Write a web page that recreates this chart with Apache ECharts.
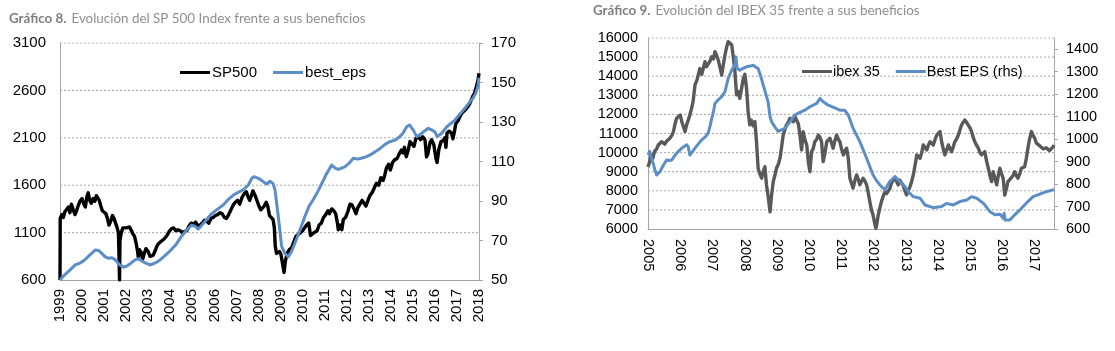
<!DOCTYPE html>
<html>
<head>
<meta charset="utf-8">
<script src="https://cdn.jsdelivr.net/npm/echarts@6/dist/echarts.min.js"></script>
<style>
    html, body {margin: 0; padding: 0; background: #fff;}
    #main {width: 1115px; height: 351px;}
</style>
</head>
<body>
<div id="main"></div>
<script>
// Gráfico 8: SP500 (eje izq.) y best_eps (eje dcho.), [año, valor]
const sp500 = [
    [1999.00, 600], [1999.01, 1250], [1999.08, 1290], [1999.15, 1260], [1999.22, 1320], [1999.30, 1340],
    [1999.38, 1370], [1999.45, 1310], [1999.52, 1400], [1999.60, 1340], [1999.68, 1290], [1999.75, 1330],
    [1999.82, 1380], [1999.90, 1430], [2000.00, 1460], [2000.08, 1400], [2000.15, 1370], [2000.22, 1480],
    [2000.28, 1520], [2000.35, 1440], [2000.42, 1410], [2000.50, 1460], [2000.58, 1430], [2000.65, 1490],
    [2000.72, 1510], [2000.78, 1440], [2000.85, 1380], [2000.92, 1330], [2001.00, 1350], [2001.08, 1300],
    [2001.15, 1250], [2001.22, 1180], [2001.30, 1220], [2001.38, 1280], [2001.45, 1250], [2001.52, 1200],
    [2001.58, 1160], [2001.65, 1100], [2001.69, 1080], [2001.70, 600], [2001.72, 1020], [2001.78, 1100],
    [2001.85, 1150], [2001.92, 1170], [2002.00, 1150], [2002.08, 1130], [2002.15, 1160], [2002.22, 1130],
    [2002.30, 1090], [2002.38, 1060], [2002.45, 990], [2002.52, 900], [2002.55, 840], [2002.60, 920],
    [2002.68, 890], [2002.75, 820], [2002.82, 880], [2002.90, 930], [2003.00, 900], [2003.08, 850],
    [2003.15, 830], [2003.22, 860], [2003.30, 900], [2003.38, 950], [2003.45, 980], [2003.55, 1000],
    [2003.65, 1020], [2003.75, 1040], [2003.85, 1070], [2003.95, 1110], [2004.05, 1140], [2004.15, 1150],
    [2004.25, 1120], [2004.35, 1130], [2004.45, 1120], [2004.55, 1100], [2004.65, 1110], [2004.75, 1120],
    [2004.85, 1170], [2004.95, 1200], [2005.05, 1190], [2005.15, 1210], [2005.25, 1170], [2005.35, 1180],
    [2005.45, 1200], [2005.55, 1230], [2005.65, 1220], [2005.75, 1200], [2005.85, 1250], [2005.95, 1260],
    [2006.05, 1280], [2006.15, 1290], [2006.25, 1310], [2006.35, 1300], [2006.45, 1260], [2006.55, 1250],
    [2006.65, 1290], [2006.75, 1340], [2006.85, 1390], [2006.95, 1420], [2007.05, 1440], [2007.15, 1400],
    [2007.25, 1470], [2007.35, 1510], [2007.45, 1530], [2007.52, 1480], [2007.60, 1440], [2007.68, 1490],
    [2007.75, 1540], [2007.80, 1560], [2007.87, 1480], [2007.95, 1460], [2008.02, 1380], [2008.10, 1340],
    [2008.18, 1320], [2008.26, 1380], [2008.35, 1420], [2008.42, 1380], [2008.50, 1280], [2008.58, 1260],
    [2008.66, 1240], [2008.72, 1150], [2008.76, 960], [2008.82, 880], [2008.88, 860], [2008.95, 900],
    [2009.02, 870], [2009.10, 760], [2009.16, 680], [2009.22, 800], [2009.30, 880], [2009.40, 920],
    [2009.50, 940], [2009.60, 1000], [2009.70, 1060], [2009.80, 1080], [2009.90, 1100], [2010.00, 1120],
    [2010.08, 1100], [2010.18, 1180], [2010.28, 1200], [2010.36, 1070], [2010.45, 1060], [2010.52, 1100],
    [2010.58, 1080], [2010.66, 1120], [2010.75, 1180], [2010.85, 1200], [2010.95, 1260], [2011.05, 1290],
    [2011.15, 1330], [2011.22, 1300], [2011.32, 1350], [2011.42, 1330], [2011.50, 1300], [2011.58, 1200],
    [2011.62, 1130], [2011.70, 1180], [2011.78, 1130], [2011.85, 1240], [2011.95, 1260], [2012.05, 1320],
    [2012.15, 1400], [2012.25, 1390], [2012.35, 1340], [2012.42, 1300], [2012.50, 1360], [2012.60, 1400],
    [2012.70, 1440], [2012.78, 1430], [2012.87, 1380], [2012.95, 1430], [2013.05, 1490], [2013.15, 1520],
    [2013.25, 1570], [2013.35, 1620], [2013.45, 1600], [2013.55, 1680], [2013.65, 1650], [2013.72, 1700],
    [2013.80, 1780], [2013.90, 1820], [2013.98, 1760], [2014.08, 1840], [2014.18, 1870], [2014.28, 1880],
    [2014.38, 1930], [2014.48, 1970], [2014.55, 1940], [2014.62, 2000], [2014.70, 1900], [2014.78, 1960],
    [2014.87, 2060], [2014.95, 2040], [2015.05, 2010], [2015.15, 2100], [2015.25, 2110], [2015.35, 2080],
    [2015.45, 2110], [2015.55, 2080], [2015.62, 1900], [2015.68, 1930], [2015.78, 2050], [2015.85, 2080],
    [2015.95, 2030], [2016.05, 1880], [2016.10, 1840], [2016.18, 1980], [2016.28, 2060], [2016.38, 2070],
    [2016.45, 2100], [2016.50, 2000], [2016.55, 2150], [2016.65, 2170], [2016.75, 2150], [2016.82, 2090],
    [2016.88, 2160], [2016.95, 2250], [2017.05, 2280], [2017.15, 2330], [2017.22, 2360], [2017.30, 2350],
    [2017.40, 2400], [2017.50, 2430], [2017.58, 2460], [2017.65, 2480], [2017.72, 2540], [2017.80, 2570],
    [2017.88, 2640], [2017.95, 2700], [2018.00, 2780]
];
const spEps = [
    [1999.00, 50], [1999.20, 52.5], [1999.45, 55], [1999.68, 57.6], [1999.90, 58.5], [2000.10, 60],
    [2000.36, 62.7], [2000.60, 65.2], [2000.75, 65], [2000.85, 64], [2001.04, 61.8], [2001.20, 61],
    [2001.35, 61.3], [2001.50, 60.3], [2001.72, 57.5], [2001.90, 56.5], [2002.05, 57.2], [2002.20, 58.4],
    [2002.40, 60.2], [2002.55, 60.8], [2002.70, 59.7], [2002.90, 58.5], [2003.08, 57.6], [2003.30, 58.5],
    [2003.55, 60.3], [2003.80, 62.7], [2004.00, 64.8], [2004.25, 67.8], [2004.50, 72], [2004.75, 75.3],
    [2004.97, 77.8], [2005.15, 77], [2005.27, 75.8], [2005.45, 78], [2005.65, 80.6], [2005.85, 83.3],
    [2006.10, 85.5], [2006.40, 88], [2006.65, 91], [2006.86, 93], [2007.10, 94.5], [2007.31, 95.6],
    [2007.54, 98.1], [2007.70, 101.5], [2007.80, 102.3], [2008.00, 101.5], [2008.22, 99.8], [2008.37, 98.6],
    [2008.52, 100], [2008.66, 98.8], [2008.75, 95.6], [2008.90, 82], [2009.05, 67], [2009.20, 63.5],
    [2009.35, 61.8], [2009.50, 64.4], [2009.70, 70], [2009.88, 75.3], [2010.10, 82], [2010.30, 87.5],
    [2010.50, 91], [2010.70, 95], [2010.90, 99.5], [2011.05, 103], [2011.32, 108.2], [2011.50, 106.5],
    [2011.62, 106], [2011.80, 106.8], [2011.93, 107.4], [2012.10, 109], [2012.30, 111.6], [2012.50, 111.2],
    [2012.70, 111.8], [2012.90, 112.5], [2013.06, 113.3], [2013.30, 115], [2013.50, 116.5], [2013.70, 118.3],
    [2013.90, 119.8], [2014.20, 120.9], [2014.40, 122.5], [2014.55, 124.3], [2014.72, 127.6], [2014.85, 128.5],
    [2015.02, 125.9], [2015.18, 122.6], [2015.35, 123.8], [2015.55, 125.6], [2015.70, 126.8], [2015.85, 126],
    [2016.00, 125], [2016.10, 122.6], [2016.31, 124.3], [2016.54, 127.6], [2016.75, 129.5], [2016.91, 131],
    [2017.10, 133.6], [2017.29, 136], [2017.45, 138.2], [2017.60, 140.3], [2017.75, 142.5], [2017.85, 144.5],
    [2017.95, 148], [2018.00, 152.5]
];
const spYears = [1999, 2018];
const spLeftTicks = [600, 1100, 1600, 2100, 2600, 3100];
const spRightTicks = [50, 70, 90, 110, 130, 150, 170];

// Gráfico 9: ibex 35 (eje izq.) y Best EPS (eje dcho.), [año, valor]
const ibex = [
    [2005.00, 9250], [2005.05, 9500], [2005.10, 9880], [2005.15, 9700], [2005.20, 10050], [2005.27, 10200],
    [2005.32, 10400], [2005.38, 10300], [2005.42, 10570], [2005.48, 10480], [2005.52, 10440], [2005.58, 10600],
    [2005.63, 10550], [2005.68, 10750], [2005.74, 10900], [2005.79, 11100], [2005.84, 11500], [2005.89, 11800],
    [2005.95, 11900], [2006.00, 11970], [2006.05, 11620], [2006.10, 11350], [2006.15, 11100], [2006.20, 11450],
    [2006.25, 11700], [2006.30, 11970], [2006.35, 12300], [2006.40, 12670], [2006.46, 13540], [2006.52, 13800],
    [2006.56, 14060], [2006.61, 14400], [2006.67, 14100], [2006.72, 14150], [2006.77, 14760], [2006.82, 14500],
    [2006.87, 14400], [2006.93, 14800], [2006.98, 15020], [2007.03, 14900], [2007.08, 15280], [2007.13, 15100],
    [2007.18, 14850], [2007.23, 14500], [2007.29, 14060], [2007.34, 14600], [2007.39, 15110], [2007.44, 15500],
    [2007.49, 15810], [2007.55, 15850], [2007.60, 15640], [2007.65, 15000], [2007.70, 14240], [2007.75, 13020],
    [2007.80, 13200], [2007.85, 12840], [2007.90, 13300], [2007.96, 13890], [2008.01, 14100], [2008.06, 13370],
    [2008.11, 12140], [2008.16, 11450], [2008.21, 11700], [2008.27, 11400], [2008.32, 11620], [2008.37, 10570],
    [2008.42, 9180], [2008.47, 8900], [2008.53, 8660], [2008.58, 9000], [2008.63, 9260], [2008.68, 8310],
    [2008.74, 7600], [2008.79, 6900], [2008.84, 7800], [2008.89, 8480], [2008.94, 8800], [2008.99, 9180],
    [2009.05, 9400], [2009.10, 9700], [2009.15, 10300], [2009.20, 10920], [2009.25, 11200], [2009.30, 11450],
    [2009.36, 11600], [2009.41, 11800], [2009.46, 11700], [2009.51, 11620], [2009.56, 11900], [2009.62, 11880],
    [2009.67, 11500], [2009.72, 10920], [2009.77, 10140], [2009.82, 11100], [2009.87, 10700], [2009.93, 10400],
    [2009.98, 9500], [2010.03, 9000], [2010.08, 10050], [2010.13, 10200], [2010.18, 10570], [2010.24, 10700],
    [2010.29, 10920], [2010.34, 10800], [2010.39, 10570], [2010.44, 9530], [2010.50, 10000], [2010.55, 10570],
    [2010.60, 10500], [2010.65, 10750], [2010.70, 10500], [2010.75, 10230], [2010.80, 10600], [2010.86, 10920],
    [2010.91, 10700], [2010.96, 10570], [2011.01, 10200], [2011.07, 9880], [2011.12, 10100], [2011.17, 10230],
    [2011.22, 9700], [2011.27, 8660], [2011.32, 8400], [2011.37, 8140], [2011.42, 8500], [2011.48, 8830],
    [2011.53, 8600], [2011.58, 8310], [2011.63, 8500], [2011.68, 8660], [2011.74, 8500], [2011.79, 8310],
    [2011.84, 7900], [2011.89, 7430], [2011.94, 7000], [2011.99, 6730], [2012.04, 6300], [2012.08, 6040],
    [2012.12, 6400], [2012.15, 6730], [2012.20, 7100], [2012.25, 7430], [2012.30, 7700], [2012.36, 7960],
    [2012.41, 7850], [2012.46, 7780], [2012.51, 8100], [2012.56, 8400], [2012.61, 8550], [2012.67, 8660],
    [2012.72, 8500], [2012.77, 8310], [2012.82, 8560], [2012.87, 8480], [2012.92, 8300], [2012.98, 8000],
    [2013.03, 7780], [2013.08, 8000], [2013.14, 8220], [2013.19, 8500], [2013.24, 8830], [2013.29, 9300],
    [2013.35, 9880], [2013.40, 9800], [2013.45, 9700], [2013.50, 10000], [2013.55, 10400], [2013.60, 10300],
    [2013.66, 10140], [2013.71, 10400], [2013.76, 10570], [2013.81, 10500], [2013.86, 10400], [2013.92, 10700],
    [2013.97, 10920], [2014.02, 11000], [2014.07, 11100], [2014.12, 10570], [2014.17, 10200], [2014.22, 9880],
    [2014.27, 10100], [2014.33, 10400], [2014.38, 10200], [2014.43, 10050], [2014.48, 10300], [2014.53, 10570],
    [2014.58, 10700], [2014.64, 10920], [2014.69, 11200], [2014.74, 11450], [2014.79, 11550], [2014.84, 11710],
    [2014.89, 11600], [2014.95, 11530], [2015.00, 11300], [2015.05, 11100], [2015.10, 10800], [2015.15, 10570],
    [2015.20, 10400], [2015.26, 10230], [2015.31, 10000], [2015.36, 9880], [2015.41, 9900], [2015.46, 10050],
    [2015.51, 9600], [2015.57, 9180], [2015.62, 8800], [2015.67, 8480], [2015.72, 9000], [2015.77, 8700],
    [2015.83, 8310], [2015.88, 8800], [2015.93, 9180], [2015.98, 8900], [2016.03, 8660], [2016.08, 7780],
    [2016.13, 8100], [2016.18, 8480], [2016.24, 8600], [2016.29, 8660], [2016.34, 8800], [2016.39, 9000],
    [2016.44, 8800], [2016.49, 8660], [2016.55, 8900], [2016.60, 9180], [2016.65, 9200], [2016.70, 9260],
    [2016.75, 9700], [2016.80, 10230], [2016.85, 10700], [2016.91, 11100], [2016.96, 10900], [2017.01, 10750],
    [2017.06, 10500], [2017.11, 10400], [2017.17, 10350], [2017.22, 10310], [2017.27, 10200], [2017.32, 10140],
    [2017.37, 10250], [2017.42, 10230], [2017.47, 10100], [2017.53, 10140], [2017.58, 10300], [2017.61, 10400]
];
const ibexEps = [
    [2005.00, 930], [2005.05, 945], [2005.10, 938], [2005.16, 892], [2005.22, 860], [2005.27, 840],
    [2005.32, 845], [2005.37, 855], [2005.48, 885], [2005.58, 907], [2005.66, 905], [2005.74, 907],
    [2005.82, 925], [2005.89, 938], [2006.05, 960], [2006.20, 975], [2006.25, 965], [2006.30, 929],
    [2006.36, 935], [2006.46, 960], [2006.57, 980], [2006.67, 997], [2006.78, 1010], [2006.87, 1027],
    [2006.93, 1060], [2006.98, 1092], [2007.03, 1120], [2007.08, 1159], [2007.18, 1175], [2007.29, 1189],
    [2007.39, 1211], [2007.44, 1240], [2007.49, 1270], [2007.60, 1307], [2007.70, 1329], [2007.73, 1366],
    [2007.77, 1314], [2007.85, 1307], [2007.95, 1315], [2008.06, 1322], [2008.17, 1325], [2008.27, 1329],
    [2008.35, 1320], [2008.42, 1314], [2008.50, 1280], [2008.58, 1240], [2008.66, 1200], [2008.73, 1166],
    [2008.79, 1100], [2008.84, 1077], [2008.94, 1055], [2009.04, 1035], [2009.10, 1040], [2009.25, 1048],
    [2009.41, 1077], [2009.56, 1107], [2009.72, 1119], [2009.87, 1129], [2010.03, 1144], [2010.24, 1159],
    [2010.34, 1181], [2010.44, 1166], [2010.60, 1151], [2010.80, 1139], [2010.96, 1129], [2011.11, 1129],
    [2011.22, 1107], [2011.37, 1048], [2011.58, 989], [2011.79, 915], [2011.99, 840], [2012.10, 815],
    [2012.20, 796], [2012.36, 774], [2012.51, 811], [2012.67, 833], [2012.82, 811], [2012.98, 789],
    [2013.13, 759], [2013.24, 744], [2013.45, 737], [2013.60, 707], [2013.86, 695], [2014.12, 700],
    [2014.27, 714], [2014.48, 707], [2014.69, 722], [2014.90, 729], [2015.05, 744], [2015.21, 737],
    [2015.42, 714], [2015.62, 677], [2015.78, 663], [2015.93, 666], [2016.03, 648], [2016.06, 670],
    [2016.09, 640], [2016.14, 633], [2016.24, 640], [2016.39, 663], [2016.60, 692], [2016.80, 722],
    [2016.96, 744], [2017.17, 755], [2017.37, 766], [2017.58, 774], [2017.61, 776]
];
const ibexYears = [2005, 2017.61];
const ibexLeftTicks = [6000, 7000, 8000, 9000, 10000, 11000, 12000, 13000, 14000, 15000, 16000];
const ibexRightTicks = [600, 700, 800, 900, 1000, 1100, 1200, 1300, 1400];

let chart = echarts.init(document.getElementById('main'));

let font = 'Liberation Sans, Arial, sans-serif';
let gridColor = '#a8a8a8';
let axisColor = '#a6a6a6';
let blue = '#5b8ec6';

function titleOf(num, rest, x, y) {
    return {
        text: '{b|Gráfico ' + num + '.} {n|' + rest + '}',
        left: x,
        top: y,
        padding: 0,
        textStyle: {
            rich: {
                b: {fontFamily: 'Lato', fontWeight: 'bold', fontSize: 13.4, color: '#7f7f7f'},
                n: {fontFamily: 'Lato', fontWeight: 'normal', fontSize: 13.4, color: '#8f8f8f'}
            }
        }
    };
}

function isWhole(v) {
    return Math.abs(v - Math.round(v)) < 1e-6;
}

function plain(v) {
    return String(v);
}

// rejilla punteada: una línea por tick del eje izquierdo, de extremo a extremo del eje x
function gridLines(xIdx, yIdx, years, ticks) {
    return ticks.slice(1).map(function (v) {
        return {
            type: 'line',
            xAxisIndex: xIdx,
            yAxisIndex: yIdx,
            data: [[years[0], v], [years[1], v]],
            symbol: 'none',
            silent: true,
            z: 1,
            color: gridColor,
            lineStyle: {width: 1, color: gridColor, type: [2, 2]}
        };
    });
}

let option = {
    animation: false,
    title: [
        titleOf(8, 'Evolución del SP 500 Index frente a sus beneficios', 9, 10),
        titleOf(9, 'Evolución del IBEX 35 frente a sus beneficios', 593, 2)
    ],
    legend: [
        {
            data: ['SP500', 'best_eps'],
            left: 175,
            top: 60,
            icon: 'rect',
            itemWidth: 30,
            itemHeight: 3,
            itemGap: 16,
            textStyle: {fontFamily: font, fontSize: 15, color: '#000', padding: [0, 0, 0, -3]}
        },
        {
            data: ['ibex 35', 'Best EPS (rhs)'],
            left: 797,
            top: 59,
            icon: 'rect',
            itemWidth: 30,
            itemHeight: 3,
            itemGap: 16,
            textStyle: {fontFamily: font, fontSize: 14.5, color: '#000', padding: [0, 0, 0, -4]}
        }
    ],
    grid: [
        {left: 60, top: 43, width: 419, height: 237},
        {left: 648, top: 38, width: 406, height: 191}
    ],
    xAxis: [
        {
            type: 'value',
            gridIndex: 0,
            min: spYears[0],
            max: spYears[1],
            interval: 1,
            axisLine: {lineStyle: {color: axisColor}},
            axisTick: {show: false},
            splitLine: {show: false},
            axisLabel: {
                rotate: 90,
                margin: 9,
                fontFamily: font,
                fontSize: 15,
                color: '#000',
                formatter: function (v) {
                    return isWhole(v) ? String(Math.round(v)) : '';
                }
            }
        },
        {
            type: 'value',
            gridIndex: 1,
            min: ibexYears[0],
            max: ibexYears[1],
            interval: 1,
            axisLine: {lineStyle: {color: axisColor}},
            axisTick: {show: false},
            splitLine: {show: false},
            axisLabel: {
                rotate: -90,
                margin: 10,
                fontFamily: font,
                fontSize: 14.5,
                color: '#000',
                showMaxLabel: false,
                formatter: function (v) {
                    return isWhole(v) ? String(Math.round(v)) : '';
                }
            }
        }
    ],
    yAxis: [
        {
            type: 'value',
            gridIndex: 0,
            min: spLeftTicks[0],
            max: spLeftTicks[spLeftTicks.length - 1],
            interval: 500,
            axisLine: {show: true, lineStyle: {color: axisColor}},
            axisTick: {show: false},
            splitLine: {show: false},
            axisLabel: {margin: 14, fontFamily: font, fontSize: 15, color: '#000', formatter: plain}
        },
        {
            type: 'value',
            gridIndex: 0,
            position: 'right',
            min: spRightTicks[0],
            max: spRightTicks[spRightTicks.length - 1],
            interval: 20,
            axisLine: {show: true, lineStyle: {color: axisColor}},
            axisTick: {show: true, length: 4, lineStyle: {color: axisColor}},
            splitLine: {show: false},
            axisLabel: {margin: 12, fontFamily: font, fontSize: 15, color: '#000', formatter: plain}
        },
        {
            type: 'value',
            gridIndex: 1,
            min: ibexLeftTicks[0],
            max: ibexLeftTicks[ibexLeftTicks.length - 1],
            interval: 1000,
            axisLine: {show: true, lineStyle: {color: axisColor}},
            axisTick: {show: false},
            splitLine: {show: false},
            axisLabel: {margin: 10, fontFamily: font, fontSize: 14.5, color: '#000', formatter: plain}
        },
        {
            type: 'value',
            gridIndex: 1,
            position: 'right',
            min: 600,
            max: 1450,
            interval: 100,
            axisLine: {show: true, lineStyle: {color: axisColor}},
            axisTick: {show: true, length: 4, lineStyle: {color: axisColor}, customValues: ibexRightTicks},
            splitLine: {show: false},
            axisLabel: {
                margin: 12, fontFamily: font, fontSize: 14.5, color: '#000',
                customValues: ibexRightTicks, formatter: plain
            }
        }
    ],
    series: gridLines(0, 0, spYears, spLeftTicks).concat(gridLines(1, 2, ibexYears, ibexLeftTicks), [
        {
            name: 'SP500',
            type: 'line',
            xAxisIndex: 0,
            yAxisIndex: 0,
            data: sp500,
            symbol: 'none',
            z: 3,
            color: '#000',
            lineStyle: {width: 3.4, color: '#000', join: 'round'}
        },
        {
            name: 'best_eps',
            type: 'line',
            xAxisIndex: 0,
            yAxisIndex: 1,
            data: spEps,
            symbol: 'none',
            z: 3,
            color: blue,
            lineStyle: {width: 3, color: blue, join: 'round'}
        },
        {
            name: 'ibex 35',
            type: 'line',
            xAxisIndex: 1,
            yAxisIndex: 2,
            data: ibex,
            symbol: 'none',
            z: 3,
            color: '#595959',
            lineStyle: {width: 3.4, color: '#595959', join: 'round'}
        },
        {
            name: 'Best EPS (rhs)',
            type: 'line',
            xAxisIndex: 1,
            yAxisIndex: 3,
            data: ibexEps,
            symbol: 'none',
            z: 3,
            color: blue,
            lineStyle: {width: 3, color: blue, join: 'round'}
        }
    ])
};

chart.setOption(option);
</script>
</body>
</html>
